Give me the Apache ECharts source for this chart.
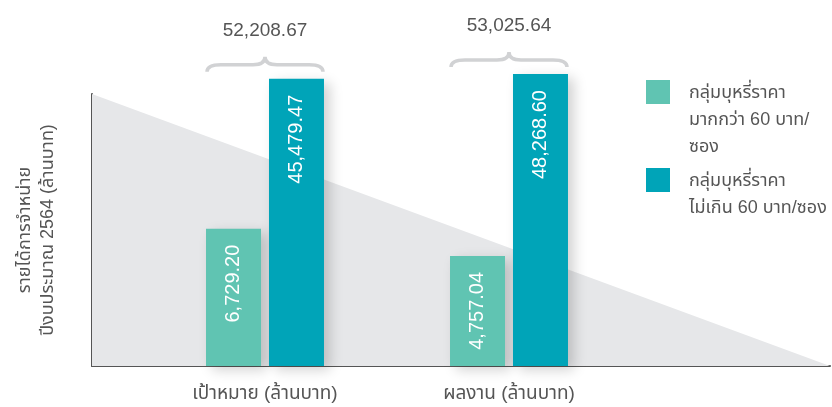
<!DOCTYPE html>
<html>
<head>
<meta charset="utf-8">
<script src="https://cdn.jsdelivr.net/npm/echarts@6/dist/echarts.min.js"></script>
<style>
  html, body { margin: 0; padding: 0; background: #fff; }
  #chart { width: 832px; height: 407px; }
</style>
</head>
<body>
<div id="chart"></div>
<script>
// data
const categories = ['เป้าหมาย (ล้านบาท)', 'ผลงาน (ล้านบาท)'];
const seriesNames = ['กลุ่มบุหรี่ราคา\nมากกว่า 60 บาท/\nซอง', 'กลุ่มบุหรี่ราคา\nไม่เกิน 60 บาท/ซอง'];
const overSixty = [6729.20, 4757.04];
const upToSixty = [45479.47, 48268.60];
const totals = [52208.67, 53025.64];
// background wedge (from top-left to bottom-right of the plot)
const wedgeX = [0, 1];
const wedgeY = [1, 0];

const FONT = "'Liberation Sans', 'Noto Sans Thai', 'Noto Sans', sans-serif";
const TEXT = '#555';
const colors = ['#60c4b2', '#00a4b8'];

function fmt(v) {
  return v.toLocaleString('en-US', { minimumFractionDigits: 2, maximumFractionDigits: 2 });
}

let chart = echarts.init(document.getElementById('chart'));

let barLabel = {
  show: true,
  position: 'insideTop',
  distance: 16,
  rotate: 90,
  align: 'right',
  verticalAlign: 'middle',
  color: '#fff',
  fontSize: 20,
  fontFamily: FONT,
  formatter: p => fmt(p.value)
};
let barShadow = {
  shadowBlur: 12,
  shadowOffsetX: 6,
  shadowOffsetY: 4,
  shadowColor: 'rgba(0,0,0,0.18)'
};

// legend icon: square at the top, invisible point keeps the box tall so
// the square sits beside the first text line
function legendIcon(h) {
  return 'path://M0 0H24V24H0Z M38 ' + h + 'L38 ' + h;
}
let legendText = { color: TEXT, fontSize: 18, lineHeight: 27, fontFamily: FONT };

let option = {
  animation: false,
  textStyle: { fontFamily: FONT },
  grid: [
    { left: 143, right: 201, top: 30, bottom: 41 },
    { left: 92, right: 2, top: 94, bottom: 41 }
  ],
  legend: [
    {
      left: 646,
      top: 80,
      padding: 0,
      itemWidth: 38,
      itemHeight: 81,
      icon: legendIcon(81),
      textStyle: legendText,
      data: [seriesNames[0]]
    },
    {
      left: 646,
      top: 168,
      padding: 0,
      itemWidth: 38,
      itemHeight: 54,
      icon: legendIcon(54),
      textStyle: legendText,
      data: [seriesNames[1]]
    }
  ],
  xAxis: [
    {
      gridIndex: 0,
      type: 'category',
      data: categories,
      axisLine: { show: false },
      axisTick: { show: false },
      axisLabel: { color: TEXT, fontSize: 19, margin: 18, fontFamily: FONT }
    },
    {
      gridIndex: 1,
      type: 'value',
      min: 0,
      max: 1,
      axisLine: { show: true, lineStyle: { color: '#555', width: 2 } },
      axisTick: { show: false },
      axisLabel: { show: false },
      splitLine: { show: false }
    }
  ],
  yAxis: [
    {
      gridIndex: 0,
      type: 'log',
      min: 1170,
      max: 84600,
      axisLine: { show: false },
      axisTick: { show: false },
      axisLabel: { show: false },
      splitLine: { show: false }
    },
    {
      gridIndex: 1,
      type: 'value',
      min: 0,
      max: 1,
      name: 'รายได้การจำหน่าย\nปีงบประมาณ 2564 (ล้านบาท)',
      nameLocation: 'middle',
      nameRotate: 90,
      nameGap: 32,
      nameTextStyle: { color: TEXT, fontSize: 18, lineHeight: 23, fontFamily: FONT },
      axisLine: { show: true, lineStyle: { color: '#555', width: 2 } },
      axisTick: { show: false },
      axisLabel: { show: false },
      splitLine: { show: false }
    }
  ],
  series: [
    {
      type: 'line',
      xAxisIndex: 1,
      yAxisIndex: 1,
      z: 1,
      symbol: 'none',
      silent: true,
      lineStyle: { width: 0 },
      areaStyle: { color: '#e6e7e9', opacity: 1 },
      data: wedgeX.map((x, i) => [x, wedgeY[i]])
    },
    {
      name: seriesNames[0],
      type: 'bar',
      xAxisIndex: 0,
      yAxisIndex: 0,
      z: 3,
      barWidth: 55,
      barGap: '14.5%',
      itemStyle: Object.assign({ color: colors[0] }, barShadow),
      label: barLabel,
      data: overSixty
    },
    {
      name: seriesNames[1],
      type: 'bar',
      xAxisIndex: 0,
      yAxisIndex: 0,
      z: 3,
      barWidth: 55,
      barGap: '14.5%',
      itemStyle: Object.assign({ color: colors[1] }, barShadow),
      label: barLabel,
      data: upToSixty
    },
    {
      // brace + total over each category
      type: 'custom',
      xAxisIndex: 0,
      yAxisIndex: 0,
      z: 4,
      silent: true,
      data: categories.map((c, i) => [i, Math.max(overSixty[i], upToSixty[i]), totals[i]]),
      renderItem: function (params, api) {
        let p = api.coord([api.value(0), api.value(1)]);
        let cx = p[0], top = p[1];
        let half = 58;
        let x0 = cx - half, x1 = cx + half;
        let yb = top - 7, ym = top - 14, yt = top - 22;
        let d = 'M' + x0 + ' ' + yb +
          ' Q' + x0 + ' ' + ym + ' ' + (x0 + 14) + ' ' + ym +
          ' L' + (cx - 12) + ' ' + ym +
          ' Q' + cx + ' ' + ym + ' ' + cx + ' ' + yt +
          ' Q' + cx + ' ' + ym + ' ' + (cx + 12) + ' ' + ym +
          ' L' + (x1 - 14) + ' ' + ym +
          ' Q' + x1 + ' ' + ym + ' ' + x1 + ' ' + yb;
        return {
          type: 'group',
          children: [
            {
              type: 'path',
              shape: { pathData: d },
              style: { fill: 'none', stroke: '#d1d2d4', lineWidth: 3.5 }
            },
            {
              type: 'text',
              style: {
                x: cx,
                y: top - 48,
                text: fmt(api.value(2)),
                align: 'center',
                verticalAlign: 'middle',
                fill: TEXT,
                fontSize: 19,
                fontFamily: FONT
              }
            }
          ]
        };
      }
    }
  ]
};

chart.setOption(option);
</script>
</body>
</html>
